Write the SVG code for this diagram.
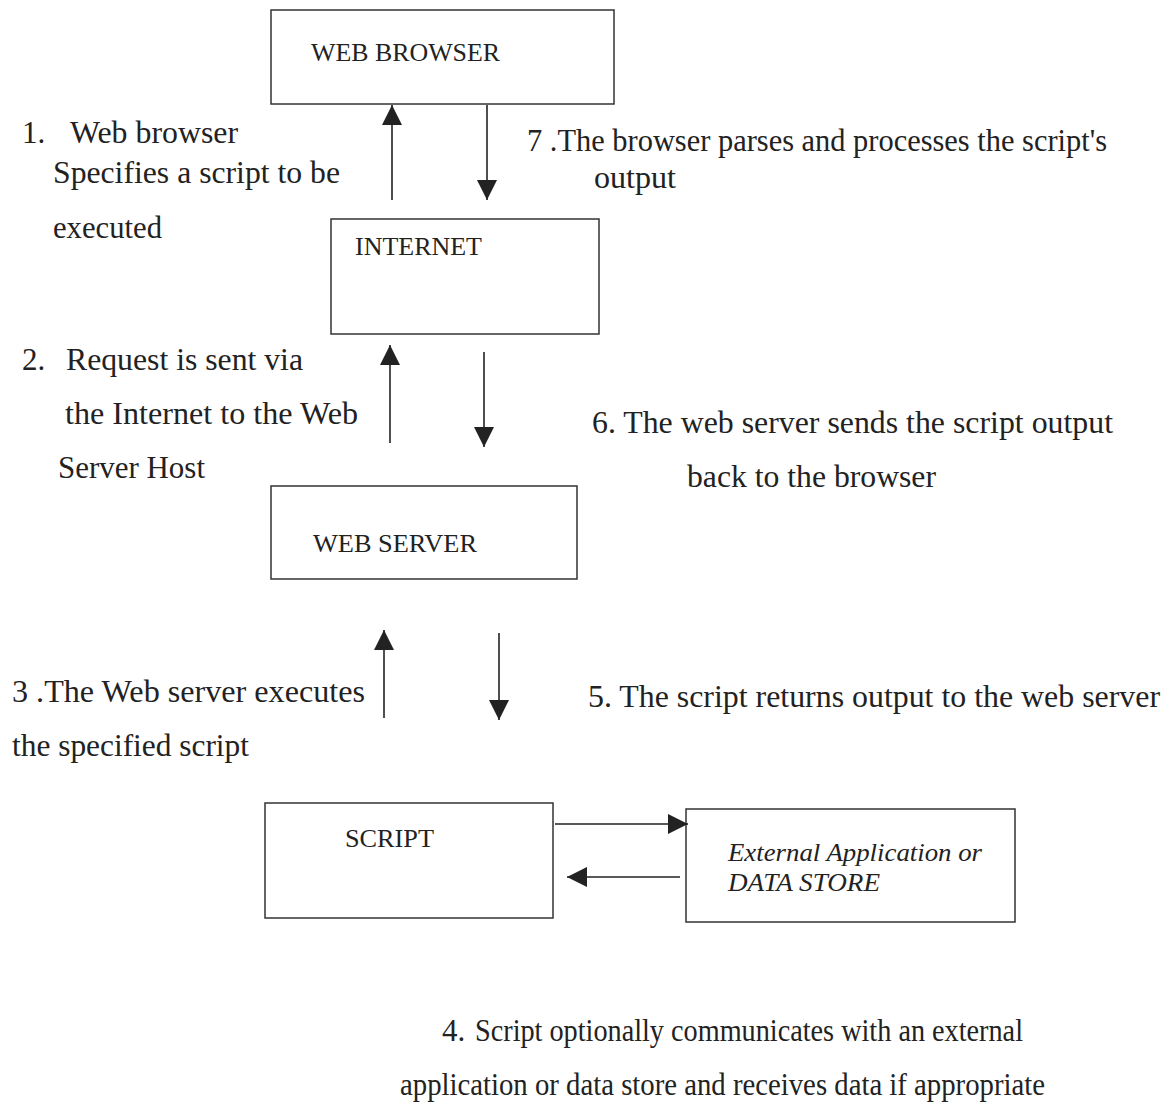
<svg xmlns="http://www.w3.org/2000/svg" width="1175" height="1106" viewBox="0 0 1175 1106">
<defs>
<style>
.box{fill:#fff;stroke:#333;stroke-width:1.5}
.lbl{font-family:"Liberation Serif","Times New Roman",serif;font-size:25px;fill:#222}
.it{font-style:italic}
.ann{font-family:"Liberation Serif","Times New Roman",serif;font-size:31px;fill:#222}
.conn line{stroke:#222;stroke-width:1.6}
</style>
<marker id="ah" viewBox="0 0 10 10" refX="10" refY="5" markerUnits="userSpaceOnUse" markerWidth="20" markerHeight="20" orient="auto">
<path d="M0,0 L10,5 L0,10 z" fill="#222"/>
</marker>
</defs>
<rect width="1175" height="1106" fill="#fff"/>

<g id="web-browser">
<rect class="box" x="271" y="10" width="343" height="94"/>
<text class="lbl" x="311" y="61" textLength="189" lengthAdjust="spacingAndGlyphs">WEB BROWSER</text>
</g>
<g id="internet">
<rect class="box" x="331" y="219" width="268" height="115"/>
<text class="lbl" x="355" y="255" textLength="127" lengthAdjust="spacingAndGlyphs">INTERNET</text>
</g>
<g id="web-server">
<rect class="box" x="271" y="486" width="306" height="93"/>
<text class="lbl" x="313" y="552" textLength="164" lengthAdjust="spacingAndGlyphs">WEB SERVER</text>
</g>
<g id="script">
<rect class="box" x="265" y="803" width="288" height="115"/>
<text class="lbl" x="345" y="847" textLength="89" lengthAdjust="spacingAndGlyphs">SCRIPT</text>
</g>
<g id="external">
<rect class="box" x="686" y="809" width="329" height="113"/>
<text class="lbl it" x="728" y="861" textLength="254" lengthAdjust="spacingAndGlyphs">External Application or</text>
<text class="lbl it" x="728" y="891" textLength="152" lengthAdjust="spacingAndGlyphs">DATA STORE</text>
</g>

<g id="connectors" class="conn">
<line x1="392" y1="200" x2="392" y2="105" marker-end="url(#ah)"/>
<line x1="487" y1="105" x2="487" y2="200" marker-end="url(#ah)"/>
<line x1="390" y1="443" x2="390" y2="345" marker-end="url(#ah)"/>
<line x1="484" y1="352" x2="484" y2="447" marker-end="url(#ah)"/>
<line x1="384" y1="718" x2="384" y2="630" marker-end="url(#ah)"/>
<line x1="499" y1="633" x2="499" y2="720" marker-end="url(#ah)"/>
<line x1="555" y1="824" x2="688" y2="824" marker-end="url(#ah)"/>
<line x1="680" y1="877" x2="567" y2="877" marker-end="url(#ah)"/>
</g>

<g id="labels">
<text class="ann" x="22" y="143">1.</text>
<text class="ann" x="70" y="143" textLength="168" lengthAdjust="spacingAndGlyphs">Web browser</text>
<text class="ann" x="53" y="183" textLength="287" lengthAdjust="spacingAndGlyphs">Specifies a script to be</text>
<text class="ann" x="53" y="238" textLength="109" lengthAdjust="spacingAndGlyphs">executed</text>

<text class="ann" x="527" y="151" textLength="580" lengthAdjust="spacingAndGlyphs">7 .The browser parses and processes the script's</text>
<text class="ann" x="594" y="188" textLength="82" lengthAdjust="spacingAndGlyphs">output</text>

<text class="ann" x="22" y="370">2.</text>
<text class="ann" x="66" y="370" textLength="237" lengthAdjust="spacingAndGlyphs">Request is sent via</text>
<text class="ann" x="65" y="424" textLength="293" lengthAdjust="spacingAndGlyphs">the Internet to the Web</text>
<text class="ann" x="58" y="478" textLength="147" lengthAdjust="spacingAndGlyphs">Server Host</text>

<text class="ann" x="592" y="433" textLength="521" lengthAdjust="spacingAndGlyphs">6. The web server sends the script output</text>
<text class="ann" x="687" y="487" textLength="249" lengthAdjust="spacingAndGlyphs">back to the browser</text>

<text class="ann" x="12" y="702" textLength="353" lengthAdjust="spacingAndGlyphs">3 .The Web server executes</text>
<text class="ann" x="12" y="756" textLength="237" lengthAdjust="spacingAndGlyphs">the specified script</text>

<text class="ann" x="588" y="707" textLength="572" lengthAdjust="spacingAndGlyphs">5. The script returns output to the web server</text>

<text class="ann" x="442" y="1041">4.</text>
<text class="ann" x="475" y="1041" textLength="548" lengthAdjust="spacingAndGlyphs">Script optionally communicates with an external</text>
<text class="ann" x="400" y="1095" textLength="645" lengthAdjust="spacingAndGlyphs">application or data store and receives data if appropriate</text>
</g>
</svg>
